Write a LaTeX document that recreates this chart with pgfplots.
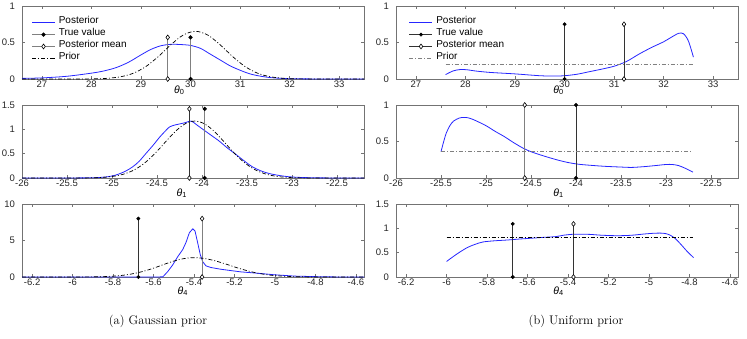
\documentclass[border=0pt]{standalone}
\usepackage{fontspec}
\usepackage{pgfplots}
\pgfplotsset{compat=1.18}
\newfontfamily\mlfont{Liberation Sans}
\definecolor{postblue}{rgb}{0.15,0.15,1}
\definecolor{axgray}{gray}{0.45}
\definecolor{stemgray}{gray}{0.5}
\definecolor{stemdark}{gray}{0.2}

\pgfplotsset{
  mlaxis/.style={
    scale only axis, width=342pt, height=73pt, anchor=south west,
    axis line style={axgray, line width=0.5pt},
    every tick/.style={axgray, line width=0.4pt},
    major tick length=3pt,
    tick align=inside, xtick pos=both, ytick pos=both,
    xticklabel pos=bottom, yticklabel pos=left,
    ticklabel style={font=\mlfont\fontsize{9.5}{11}\selectfont, text=black!85},
    /pgf/number format/assume math mode=true,
    yticklabel style={xshift=-3.5pt},
    xticklabel style={yshift=1.5pt},
    xlabel style={font=\mlfont\fontsize{10.5}{12}\selectfont, anchor=north, inner sep=0pt},
    clip=false,
    legend style={draw=none, fill=none, inner sep=0pt, outer sep=0pt,
      anchor=north west, font=\mlfont\fontsize{10}{11}\selectfont,
      nodes={inner sep=0pt, text height=7.2pt, text depth=4.7pt},
      row sep=0pt,
      /tikz/every odd column/.append style={column sep=3.3pt}},
    legend cell align=left,
    legend image code/.code={\draw[mark repeat=2,mark phase=2,##1] plot coordinates {(0pt,0pt) (11.5pt,0pt) (23pt,0pt)};},
  },
  labelat/.style 2 args={xlabel style={at={(rel axis cs:#1,0)}, yshift=#2}},
  post/.style={postblue, line width=0.8pt, smooth, no marks},
  prior/.style={black, line width=0.7pt, dash pattern=on 4pt off 2pt on 1pt off 2pt, no marks},
  gprior/.style={black!50, line width=1pt, dash pattern=on 4pt off 2pt on 1pt off 2pt, no marks},
  truestem/.style={mark=*, mark size=1.6pt, mark options={fill=black, draw=black, solid}},
  meanstem/.style={mark=diamond*, mark size=2.4pt, mark options={fill=white, draw=black, line width=0.6pt, solid}},
  gline/.style={stemgray, line width=0.9pt},
  dline/.style={stemdark, line width=0.6pt},
}

\begin{document}
\begin{tikzpicture}
\useasboundingbox (0,0) rectangle (747pt,338pt);

% ---------- (a) Gaussian prior ----------
\begin{axis}[mlaxis, labelat={0.46}{-6.5pt}, at={(22pt,259pt)},
  xmin=26.6, xmax=33.5, ymin=0, ymax=1,
  xtick={27,28,29,30,31,32,33}, ytick={0,0.5,1},
  xlabel={{\itshape θ}\textsubscript{0}},
  legend style={at={(rel axis cs:0.028,0.853)}}]
\addplot[post] coordinates {(26.6,0.008) (27,0.015) (27.5,0.037) (28,0.08) (28.25,0.11) (28.5,0.156) (28.75,0.23) (29,0.33) (29.2,0.405) (29.4,0.455) (29.6,0.475) (29.8,0.472) (30,0.46) (30.2,0.42) (30.4,0.34) (30.6,0.26) (30.8,0.18) (31,0.12) (31.2,0.07) (31.4,0.04) (31.6,0.02) (31.8,0.01) (32,0.004) (32.5,0.001) (33.5,0)};
\addplot[gline, truestem] coordinates {(30,0) (30,0.57)};
\addplot[gline, meanstem] coordinates {(29.54,0) (29.54,0.57)};
\addplot[prior, smooth] coordinates {(26.6,0) (27.6,0.0001) (28.1,0.003) (28.35,0.011) (28.6,0.032) (28.85,0.08) (29.1,0.171) (29.35,0.307) (29.6,0.467) (29.85,0.601) (30.1,0.654) (30.35,0.601) (30.6,0.467) (30.85,0.307) (31.1,0.171) (31.35,0.08) (31.6,0.032) (31.85,0.011) (32.1,0.003) (32.6,0.0001) (33.5,0)};
\legend{Posterior, True value, Posterior mean, Prior}
\end{axis}

\begin{axis}[mlaxis, labelat={0.467}{-10.5pt}, at={(22pt,160pt)},
  xmin=-26, xmax=-22.2, ymin=0, ymax=1.5,
  xtick={-26,-25.5,-25,-24.5,-24,-23.5,-23,-22.5}, ytick={0,0.5,1,1.5},
  xlabel={{\itshape θ}\textsubscript{1}}]
\addplot[post] coordinates {(-26,0) (-25.5,0.001) (-25.2,0.006) (-25.05,0.025) (-24.95,0.065) (-24.85,0.14) (-24.77,0.23) (-24.7,0.34) (-24.62,0.51) (-24.54,0.68) (-24.47,0.84) (-24.4,0.98) (-24.36,1.05) (-24.3,1.09) (-24.25,1.11) (-24.18,1.14) (-24.12,1.17) (-24.05,1.08) (-23.99,1.0) (-23.9,0.88) (-23.81,0.76) (-23.72,0.62) (-23.62,0.48) (-23.53,0.35) (-23.44,0.23) (-23.35,0.15) (-23.25,0.09) (-23.1,0.04) (-22.95,0.015) (-22.7,0.003) (-22.2,0)};
\addplot[gline, truestem] coordinates {(-23.97,0) (-23.97,1.42)};
\addplot[dline, meanstem] coordinates {(-24.14,0) (-24.14,1.42)};
\addplot[prior, smooth] coordinates {(-26,0) (-25.28,0.002) (-25.08,0.016) (-24.98,0.036) (-24.88,0.075) (-24.78,0.142) (-24.68,0.249) (-24.58,0.399) (-24.48,0.588) (-24.38,0.795) (-24.28,0.985) (-24.18,1.121) (-24.08,1.17) (-23.98,1.121) (-23.88,0.985) (-23.78,0.795) (-23.68,0.588) (-23.58,0.399) (-23.48,0.249) (-23.38,0.142) (-23.28,0.075) (-23.18,0.036) (-23.08,0.016) (-22.88,0.002) (-22.2,0)};
\end{axis}

\begin{axis}[mlaxis, labelat={0.47}{-9.5pt}, at={(22pt,61pt)},
  xmin=-6.25, xmax=-4.56, ymin=0, ymax=10,
  xtick={-6.2,-6,-5.8,-5.6,-5.4,-5.2,-5,-4.8,-4.6}, ytick={0,5,10},
  xlabel={{\itshape θ}\textsubscript{4}}]
\addplot[postblue, line width=0.8pt, no marks] coordinates {(-6.25,0) (-5.6,0) (-5.554,0.02) (-5.53,0.74) (-5.505,1.67) (-5.48,2.8) (-5.456,3.75) (-5.44,4.7) (-5.423,6.06) (-5.406,6.6) (-5.395,6.3) (-5.382,4.7) (-5.369,3.06) (-5.357,2.1) (-5.341,1.53) (-5.316,1.3) (-5.267,1.06) (-5.218,0.88) (-5.168,0.7) (-5.1,0.55) (-5.0,0.3) (-4.9,0.12) (-4.8,0.05) (-4.7,0.01) (-4.56,0)};
\addplot[dline, truestem] coordinates {(-5.675,0) (-5.675,8)};
\addplot[gline, meanstem] coordinates {(-5.36,0) (-5.36,8)};
\addplot[prior, smooth] coordinates {(-6.25,0) (-5.9,0.02) (-5.8,0.117) (-5.75,0.24) (-5.7,0.46) (-5.65,0.78) (-5.6,1.21) (-5.55,1.71) (-5.5,2.18) (-5.45,2.52) (-5.4,2.65) (-5.35,2.54) (-5.3,2.25) (-5.25,1.84) (-5.2,1.38) (-5.15,0.96) (-5.1,0.61) (-5.05,0.36) (-5.0,0.19) (-4.9,0.045) (-4.8,0.007) (-4.56,0)};
\end{axis}

% ---------- (b) Uniform prior ----------
\begin{axis}[mlaxis, labelat={0.475}{-6.5pt}, at={(396pt,259pt)},
  xmin=26.6, xmax=33.5, ymin=0, ymax=1,
  xtick={27,28,29,30,31,32,33}, ytick={0,0.5,1},
  xlabel={{\itshape θ}\textsubscript{0}},
  legend style={at={(rel axis cs:0.038,0.853)}}]
\addplot[post] coordinates {(27.6,0.06) (27.75,0.11) (27.9,0.13) (28.05,0.125) (28.2,0.11) (28.5,0.09) (29,0.07) (29.5,0.045) (29.8,0.04) (30,0.045) (30.25,0.065) (30.5,0.1) (30.75,0.135) (31,0.175) (31.25,0.24) (31.5,0.34) (31.75,0.43) (32,0.51) (32.15,0.57) (32.3,0.625) (32.4,0.62) (32.5,0.52) (32.6,0.3)};
\addplot[dline, truestem] coordinates {(30,0) (30,0.75)};
\addplot[dline, meanstem] coordinates {(31.2,0) (31.2,0.75)};
\addplot[gprior] coordinates {(27.6,0.2) (32.6,0.2)};
\legend{Posterior, True value, Posterior mean, Prior}
\end{axis}

\begin{axis}[mlaxis, labelat={0.475}{-10.5pt}, at={(396pt,160pt)},
  xmin=-26, xmax=-22.2, ymin=0, ymax=1,
  xtick={-26,-25.5,-25,-24.5,-24,-23.5,-23,-22.5}, ytick={0,0.5,1},
  xlabel={{\itshape θ}\textsubscript{1}}]
\addplot[post] coordinates {(-25.5,0.36) (-25.47,0.5) (-25.44,0.62) (-25.4,0.72) (-25.36,0.78) (-25.3,0.82) (-25.25,0.83) (-25.2,0.825) (-25.14,0.8) (-25.07,0.76) (-24.99,0.71) (-24.9,0.64) (-24.8,0.57) (-24.7,0.49) (-24.59,0.41) (-24.5,0.36) (-24.43,0.33) (-24.3,0.28) (-24.2,0.245) (-24.1,0.215) (-23.98,0.19) (-23.85,0.175) (-23.68,0.16) (-23.5,0.15) (-23.38,0.145) (-23.25,0.155) (-23.12,0.17) (-23.0,0.185) (-22.93,0.185) (-22.86,0.17) (-22.78,0.13) (-22.7,0.08)};
\addplot[dline, truestem] coordinates {(-24,0) (-24,1)};
\addplot[gline, meanstem] coordinates {(-24.57,0) (-24.57,1)};
\addplot[gprior] coordinates {(-25.5,0.357) (-22.7,0.357)};
\end{axis}

\begin{axis}[mlaxis, labelat={0.475}{-9.5pt}, at={(396pt,61pt)},
  xmin=-6.25, xmax=-4.56, ymin=0, ymax=1.5,
  xtick={-6.2,-6,-5.8,-5.6,-5.4,-5.2,-5,-4.8,-4.6}, ytick={0,0.5,1,1.5},
  xlabel={{\itshape θ}\textsubscript{4}}]
\addplot[post] coordinates {(-6.0,0.32) (-5.95,0.47) (-5.9,0.6) (-5.86,0.67) (-5.82,0.72) (-5.76,0.745) (-5.7,0.76) (-5.64,0.78) (-5.57,0.8) (-5.52,0.815) (-5.46,0.83) (-5.42,0.86) (-5.37,0.88) (-5.34,0.88) (-5.29,0.875) (-5.24,0.86) (-5.18,0.85) (-5.13,0.85) (-5.08,0.86) (-5.02,0.885) (-4.97,0.9) (-4.93,0.9) (-4.9,0.87) (-4.87,0.79) (-4.84,0.66) (-4.81,0.52) (-4.78,0.4)};
\addplot[dline, truestem] coordinates {(-5.673,0) (-5.673,1.09)};
\addplot[dline, meanstem] coordinates {(-5.373,0) (-5.373,1.09)};
\addplot[prior] coordinates {(-6.0,0.82) (-4.78,0.82)};
\end{axis}

\node[anchor=base, font=\fontsize{12.5}{14}\selectfont] at (158pt,14pt) {(a) Gaussian prior};
\node[anchor=base, font=\fontsize{12.5}{14}\selectfont] at (576pt,14pt) {(b) Uniform prior};
\end{tikzpicture}
\end{document}
